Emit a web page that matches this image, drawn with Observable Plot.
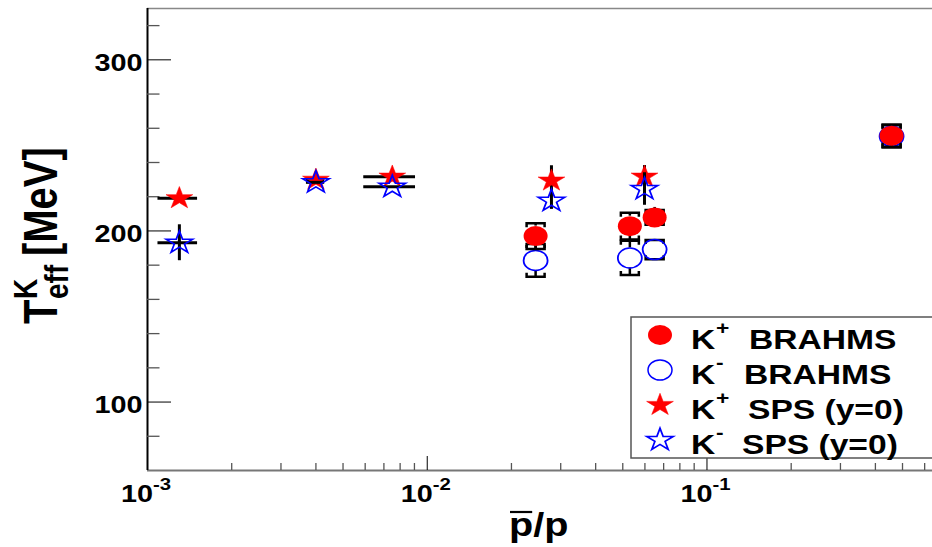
<!DOCTYPE html>
<html>
<head>
<meta charset="utf-8">
<script src="https://cdn.jsdelivr.net/npm/d3@7"></script>
<script src="https://cdn.jsdelivr.net/npm/@observablehq/plot@0.6"></script>
<style>
html, body { margin: 0; padding: 0; background: #fff; overflow: hidden; }
#chart svg { display: block; }
</style>
</head>
<body>
<div id="chart"></div>
<script>
// ---------- data ----------
// BRAHMS points: x = pbar/p, T_eff in MeV, symmetric error
const brahmsX = [0.0244, 0.0530, 0.0650, 0.457];
const kPlusBrahmsT = [197.0, 202.8, 207.9, 255.7];
const kPlusBrahmsErr = [7.5, 7.8, 4.3, 6.5];
const kMinusBrahmsT = [182.8, 184.2, 189.1, 255.3];
const kMinusBrahmsErr = [9.6, 10.0, 5.6, 6.5];

// SPS (y=0) points
const spsX = [0.0013, 0.0040, 0.0075, 0.0278, 0.0598];
const spsXLow = [0.00109, 0.0037, 0.00593, 0.0278, 0.0598];
const spsXHigh = [0.00151, 0.0043, 0.00908, 0.0278, 0.0598];
const kPlusSpsT = [219.1, 229.9, 231.7, 229.4, 231.7];
const kPlusSpsErr = [0, 0, 0, 8.7, 6.5];
const kMinusSpsT = [193.1, 228.4, 225.8, 217.6, 224.5];
const kMinusSpsErr = [10.5, 0, 0, 5.0, 9.5];

// axes
const xDomain = [0.001, 0.64];
const yDomain = [60, 330];
const yMajorTicks = [100, 200, 300];
const yMinorTicks = [80, 120, 140, 160, 180, 220, 240, 260, 280, 320];
const xMajorTicks = [0.001, 0.01, 0.1];
const xTickBase = "10";
const xTickExponents = ["-3", "-2", "-1"];
const xMinorTicks = [0.002, 0.003, 0.004, 0.005, 0.006, 0.007, 0.008, 0.009,
                     0.02, 0.03, 0.04, 0.05, 0.06, 0.07, 0.08, 0.09,
                     0.2, 0.3, 0.4, 0.5, 0.6];

// legend
const legendCharges = ["+", "-", "+", "-"];
const legendNames = ["BRAHMS", "BRAHMS", "SPS (y=0)", "SPS (y=0)"];

// ---------- build ----------
const FONT = "'Liberation Sans', Arial, Helvetica, sans-serif";
const SX = 1.2; // horizontal stretch of the original picture
const RED = "#ff0000", BLUE = "#0000ff";
const [X_MIN, X_MAX] = xDomain;
const [Y_MIN, Y_MAX] = yDomain;

const kPlusBrahms = brahmsX.map((x, i) => ({x, y: kPlusBrahmsT[i], e: kPlusBrahmsErr[i]}));
const kMinusBrahms = brahmsX.map((x, i) => ({x, y: kMinusBrahmsT[i], e: kMinusBrahmsErr[i]}));
const kPlusSps = spsX.map((x, i) => ({x, xl: spsXLow[i], xh: spsXHigh[i], y: kPlusSpsT[i], e: kPlusSpsErr[i]}));
const kMinusSps = spsX.map((x, i) => ({x, xl: spsXLow[i], xh: spsXHigh[i], y: kMinusSpsT[i], e: kMinusSpsErr[i]}));

const capTop = {draw(ctx, size) { const r = Math.sqrt(size / Math.PI); ctx.moveTo(-r, 4); ctx.lineTo(-r, 0); ctx.lineTo(r, 0); ctx.lineTo(r, 4); }};
const capBottom = {draw(ctx, size) { const r = Math.sqrt(size / Math.PI); ctx.moveTo(-r, -4); ctx.lineTo(-r, 0); ctx.lineTo(r, 0); ctx.lineTo(r, -4); }};

function brahmsErrors(data) {
  const s = {stroke: "black", strokeWidth: 2.5};
  return [
    Plot.ruleX(data, {x: "x", y1: d => d.y + d.e, y2: "y", insetBottom: 10, ...s}),
    Plot.ruleX(data, {x: "x", y1: "y", y2: d => d.y - d.e, insetTop: 10, ...s}),
    Plot.dot(data, {x: "x", y: d => d.y + d.e, symbol: capTop, r: 9, fill: "none", ...s}),
    Plot.dot(data, {x: "x", y: d => d.y - d.e, symbol: capBottom, r: 9, fill: "none", ...s})
  ];
}
function spsErrors(data) {
  const s = {stroke: "black", strokeWidth: 3};
  return [
    Plot.ruleY(data.filter(d => d.xh > d.xl), {y: "y", x1: "xl", x2: "xh", ...s}),
    Plot.ruleX(data.filter(d => d.e > 0), {x: "x", y1: d => d.y - d.e, y2: d => d.y + d.e, ...s})
  ];
}
const txt = {fontFamily: FONT, fontWeight: "bold", fill: "black"};

const plot = Plot.plot({
  width: 932,
  height: 547,
  marginTop: 8,
  marginBottom: 77,
  marginLeft: 147,
  marginRight: 0,
  x: {type: "log", domain: xDomain, axis: null},
  y: {domain: yDomain, axis: null},
  style: {background: "white", overflow: "visible"},
  marks: [
    // frame
    Plot.ruleY([Y_MAX], {stroke: "#888", strokeWidth: 1.5}),
    Plot.ruleY([Y_MIN], {stroke: "#777", strokeWidth: 2}),
    Plot.ruleX([X_MIN], {stroke: "black", strokeWidth: 2}),
    // ticks (pointing inward)
    Plot.ruleY(yMajorTicks, {y: d => d, x1: () => X_MIN, x2: () => X_MIN, insetRight: -24, stroke: "black", strokeWidth: 1}),
    Plot.ruleY(yMinorTicks, {y: d => d, x1: () => X_MIN, x2: () => X_MIN, insetRight: -12.5, stroke: "#555", strokeWidth: 1.3}),
    Plot.ruleX(xMajorTicks, {x: d => d, y1: () => Y_MIN, y2: () => Y_MIN, insetTop: -14, stroke: "black", strokeWidth: 1}),
    Plot.ruleX(xMinorTicks, {x: d => d, y1: () => Y_MIN, y2: () => Y_MIN, insetTop: -7, stroke: "#555", strokeWidth: 1.3}),
    // tick labels
    Plot.text(yMajorTicks, {x: () => X_MIN, y: d => d, text: d => String(d), textAnchor: "end", dx: -5, dy: 3.5, fontSize: 24, className: "stretch", ...txt}),
    Plot.text(xMajorTicks, {x: d => d, y: () => Y_MIN, text: () => xTickBase, textAnchor: "end", dx: 5.5, dy: 24, fontSize: 24, className: "stretch", ...txt}),
    Plot.text(xMajorTicks, {x: d => d, y: () => Y_MIN, text: (d, i) => xTickExponents[i], textAnchor: "start", dx: 5.5, dy: 14.5, fontSize: 17, className: "stretch", ...txt}),
    // K- BRAHMS
    ...brahmsErrors(kMinusBrahms),
    Plot.dot(kMinusBrahms, {x: "x", y: "y", r: 10, fill: "none", stroke: BLUE, strokeWidth: 1.5, className: "mk"}),
    // K+ BRAHMS
    ...brahmsErrors(kPlusBrahms),
    Plot.dot(kPlusBrahms, {x: "x", y: "y", r: 10, fill: RED, stroke: "none", className: "mk"}),
    // K+ SPS
    ...spsErrors(kPlusSps),
    Plot.dot(kPlusSps, {x: "x", y: "y", r: 7, symbol: "star", fill: RED, stroke: RED, strokeWidth: 0.5, className: "mk"}),
    // K- SPS
    ...spsErrors(kMinusSps),
    Plot.dot(kMinusSps, {x: "x", y: "y", r: 7, symbol: "star", fill: "none", stroke: BLUE, strokeWidth: 1.5, className: "mk"})
  ]
});

document.getElementById("chart").appendChild(plot);

// horizontal stretch like the original picture
function stretchText(el) {
  const t = el.getAttribute("transform");
  if (t) el.setAttribute("transform", t + ` scale(${SX},1)`);
  else {
    const x = parseFloat(el.getAttribute("x")) || 0;
    el.setAttribute("x", x / SX);
    el.setAttribute("transform", `scale(${SX},1)`);
  }
}
function stretchMarker(el) {
  if (el.tagName === "circle") {
    const cx = +el.getAttribute("cx"), cy = +el.getAttribute("cy");
    el.setAttribute("cx", 0); el.setAttribute("cy", 0);
    el.setAttribute("transform", `translate(${cx},${cy}) scale(${SX},1)`);
  } else {
    const t = el.getAttribute("transform") || "";
    el.setAttribute("transform", t + ` scale(${SX},1)`);
  }
}
plot.querySelectorAll("g.stretch text").forEach(stretchText);
plot.querySelectorAll("g.mk circle, g.mk path").forEach(stretchMarker);

const svg = d3.select(plot);

// y axis title  T^K_eff [MeV]
const yt = svg.append("g")
  .attr("transform", `translate(57,324) rotate(-90) scale(1,${SX})`)
  .attr("font-family", FONT).attr("font-weight", "bold").attr("fill", "black")
  .attr("text-anchor", "start");
yt.append("text").attr("font-size", 40).text("T");
yt.append("text").attr("x", 25).attr("y", -17).attr("font-size", 28).text("K");
yt.append("text").attr("x", 25).attr("y", 9).attr("font-size", 28).text("eff");
yt.append("text").attr("x", 68).attr("font-size", 40).text("[MeV]");

// x axis title  p̄/p
const xtX = 509, xtY = 536;
const xt = svg.append("text")
  .attr("transform", `translate(${xtX},${xtY}) scale(${SX},1)`)
  .attr("text-anchor", "start")
  .attr("font-family", FONT).attr("font-weight", "bold").attr("font-size", 33).attr("fill", "black")
  .text("p/p");
let pw = 20;
try { pw = xt.node().getSubStringLength(0, 1); } catch (e) {}
svg.append("line")
  .attr("x1", xtX + 1).attr("x2", xtX + pw * SX - 1)
  .attr("y1", xtY - 24).attr("y2", xtY - 24)
  .attr("stroke", "black").attr("stroke-width", 2.2);

// legend
const lg = svg.append("g").attr("text-anchor", "start");
lg.append("rect").attr("x", 631).attr("y", 317).attr("width", 330).attr("height", 141)
  .attr("fill", "white").attr("stroke", "#555").attr("stroke-width", 1.5);
const rowY = [335, 370, 405, 440];
const nameX = [749, 744, 748, 742];
const starPath = d3.symbol(d3.symbolStar, Math.PI * 7 * 7)();
const lgMarkers = [
  g => g.append("ellipse").attr("rx", 10 * SX).attr("ry", 10).attr("fill", RED),
  g => g.append("ellipse").attr("rx", 10 * SX).attr("ry", 10).attr("fill", "none").attr("stroke", BLUE).attr("stroke-width", 1.5),
  g => g.append("path").attr("d", starPath).attr("transform", `scale(${SX},1)`).attr("fill", RED).attr("stroke", RED).attr("stroke-width", 0.5),
  g => g.append("path").attr("d", starPath).attr("transform", `scale(${SX},1)`).attr("fill", "none").attr("stroke", BLUE).attr("stroke-width", 1.5)
];
legendNames.forEach((name, i) => {
  const g = lg.append("g").attr("transform", `translate(660,${rowY[i]})`);
  lgMarkers[i](g);
  const base = rowY[i] + 14;
  const tf = (x, y) => `translate(${x},${y}) scale(${SX},1)`;
  lg.append("text").attr("transform", tf(691, base))
    .attr("font-family", FONT).attr("font-weight", "bold").attr("font-size", 28).text("K");
  lg.append("text").attr("transform", tf(716, base - 15))
    .attr("font-family", FONT).attr("font-weight", "bold").attr("font-size", 19).text(legendCharges[i]);
  lg.append("text").attr("transform", tf(nameX[i], base))
    .attr("font-family", FONT).attr("font-weight", "bold").attr("font-size", 28).text(name);
});
</script>
</body>
</html>
